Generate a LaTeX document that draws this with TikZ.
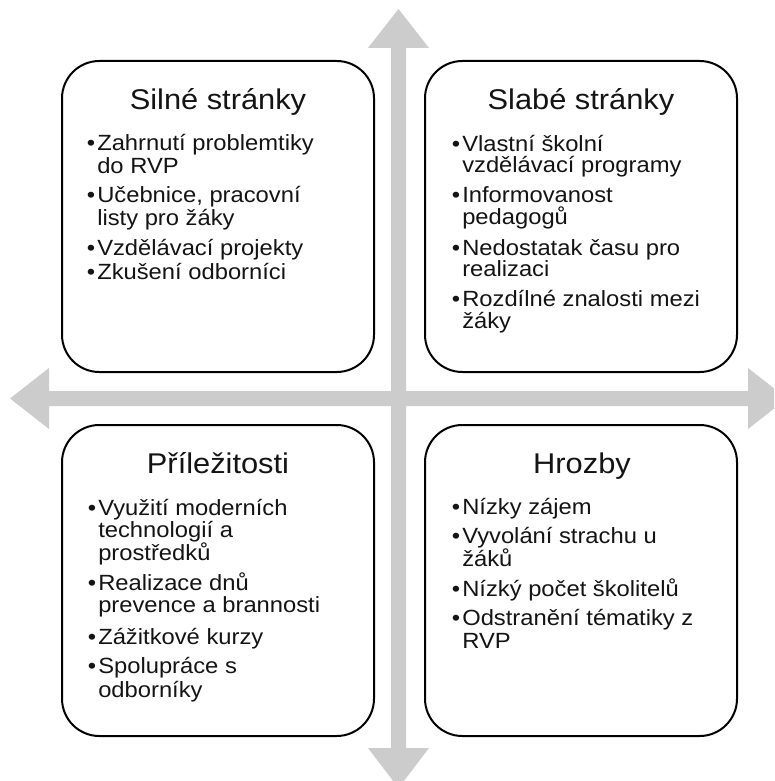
\documentclass[tikz,border=0pt]{standalone}
\usepackage{fontspec}
\setmainfont{Liberation Sans}[FakeStretch=1.08]
\definecolor{arrowgray}{RGB}{204,204,204}
\definecolor{inkc}{RGB}{20,20,20}
\tikzset{
  quad/.style={draw=black, line width=1.5pt, rounded corners=28pt, fill=white,
    minimum width=234pt, minimum height=233.25pt, inner sep=0pt},
  ttl/.style={anchor=base, inner sep=0pt, text=inkc, font=\fontsize{21.4pt}{24pt}\selectfont},
  itm/.style={anchor=base west, inner sep=0pt, text=inkc, font=\fontsize{16.5pt}{18pt}\selectfont},
  axisarrow/.style={fill=arrowgray, draw=none}
}
\newcommand{\bulletmark}[1]{\ifnum#1=1 \llap{•\hspace{1.5pt}}\fi}
\begin{document}
\begin{tikzpicture}[x=0.75pt,y=-0.75pt]
\useasboundingbox (0,0) rectangle (774,781);
\clip (0,0) rectangle (774,781);
\fill[white] (0,0) rectangle (774,781);
% axes
\fill[axisarrow] (398.5,9) -- (429,48) -- (406,48) -- (406,748) -- (429,748) -- (398.5,788)
  -- (368,748) -- (391,748) -- (391,48) -- (368,48) -- cycle;
\fill[axisarrow] (10,398.5) -- (49,368) -- (49,391) -- (748,391) -- (748,368) -- (787,398.5)
  -- (748,429) -- (748,406) -- (49,406) -- (49,429) -- cycle;
% boxes
\node[quad] (S) at (218,216.5) {};
\node[quad] (W) at (581,216.5) {};
\node[quad] (O) at (218,580.5) {};
\node[quad] (T) at (581,580.5) {};
% titles
\node[ttl] (St) at (218,110) {Silné stránky};
\node[ttl] (Wt) at (581,110) {Slabé stránky};
\node[ttl] (Ot) at (218,473) {Příležitosti};
\node[ttl] (Tt) at (582,473) {Hrozby};
% items
\foreach \yv/\bl/\txt [count=\i] in {
  151/1/Zahrnutí problemtiky, 173/0/do RVP, 202.7/1/{Učebnice, pracovní},
  225/0/listy pro žáky, 255/1/Vzdělávací projekty, 279/1/Zkušení odborníci}
  \node[itm] (S\i) at (97,\yv) {\bulletmark{\bl}\txt};
\foreach \yv/\bl/\txt [count=\i] in {
  151.7/1/Vlastní školní, 172.7/0/vzdělávací programy, 202.7/1/Informovanost,
  224.3/0/pedagogů, 255/1/Nedostatak času pro, 276/0/realizaci,
  306.7/1/Rozdílné znalosti mezi, 328/0/žáky}
  \node[itm] (W\i) at (462,\yv) {\bulletmark{\bl}\txt};
\foreach \yv/\bl/\txt [count=\i] in {
  515/1/Využití moderních, 537/0/technologií a, 560/0/prostředků,
  590/1/Realizace dnů, 612/0/prevence a brannosti, 644/1/Zážitkové kurzy,
  673/1/Spolupráce s, 697/0/odborníky}
  \node[itm] (O\i) at (98,\yv) {\bulletmark{\bl}\txt};
\foreach \yv/\bl/\txt [count=\i] in {
  514/1/Nízky zájem, 543/1/Vyvolání strachu u, 566/0/žáků,
  596/1/Nízký počet školitelů, 625/1/Odstranění tématiky z, 648/0/RVP}
  \node[itm] (T\i) at (462,\yv) {\bulletmark{\bl}\txt};
\end{tikzpicture}
\end{document}
